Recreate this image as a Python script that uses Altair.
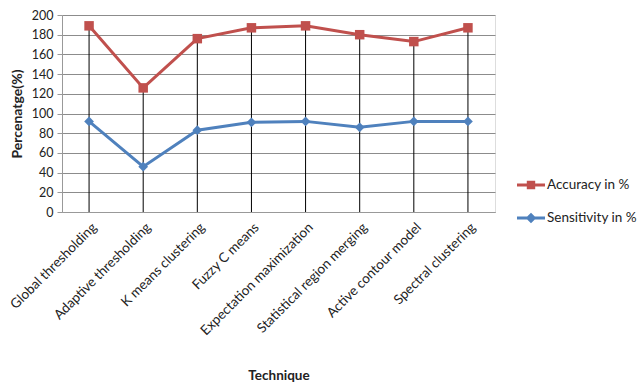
import altair as alt
import pandas as pd

techniques = ["Global thresholding", "Adaptive thresholding", "K means clustering",
              "Fuzzy C means", "Expectation maximization", "Statistical region merging",
              "Active contour model", "Spectral clustering"]
sensitivity = [92, 46, 83, 91, 92, 86, 92, 92]
accuracy = [97, 80, 93, 96, 97, 94, 81, 95]
series_names = ["Accuracy in %", "Sensitivity in %"]
series_colors = ["#C0504D", "#4F81BD"]
y_ticks = list(range(0, 201, 20))

FONT = "Lato"

# legend glyphs: a short line with the series marker on it
legend_glyphs = [
    "M-1,-0.11H1V0.11H-1Z M-0.3,-0.3H0.3V0.3H-0.3Z",
    "M-1,-0.11H1V0.11H-1Z M0,-0.38L0.38,0L0,0.38L-0.38,0Z",
]

df = pd.DataFrame({"Technique": techniques, "acc": accuracy, "sens": sensitivity})

base = alt.Chart(df).transform_calculate(
    **{"Accuracy in %": "datum.acc + datum.sens", "Sensitivity in %": "datum.sens"}
)

x_enc = alt.X(
    "Technique:N", sort=techniques, title="Technique",
    scale=alt.Scale(type="point", padding=0.5),
    axis=alt.Axis(labelAngle=-45, labelFont=FONT, labelFontSize=13.5, labelColor="#222",
                  labelPadding=8, ticks=False, domainColor="#999", domainWidth=1,
                  titleFont=FONT, titleFontSize=13.5, titleFontWeight="bold",
                  titleColor="#222", titleY=163, titleBaseline="middle"),
)
y_scale = alt.Scale(domain=[0, 200])
y_axis = alt.Axis(values=y_ticks, title="Percenatge(%)", domain=True, domainColor="#999",
                  ticks=True, tickSize=5, tickColor="#999",
                  gridColor="#8c8c8c", gridWidth=1, labelFont=FONT, labelFontSize=12.5,
                  labelColor="#222", labelPadding=4, titleFont=FONT, titleFontSize=14,
                  titleFontWeight="bold", titleColor="#222", titlePadding=7)
y_val = alt.Y("Value:Q", scale=y_scale, axis=y_axis)

color_scale = alt.Scale(domain=series_names, range=series_colors)

leg = alt.Legend(title=None, orient="none", legendX=455, legendY=156, padding=0,
                 symbolSize=784, symbolStrokeWidth=0, symbolOpacity=1,
                 labelFont=FONT, labelFontSize=13.5, labelColor="#222",
                 labelOffset=2, rowPadding=12)
color_enc = alt.Color("Series:N", scale=color_scale, legend=leg)

folded = base.transform_fold(series_names, as_=["Series", "Value"])

rules = base.mark_rule(color="black", strokeWidth=1).encode(
    x=x_enc,
    y=alt.Y("Accuracy in %:Q", scale=y_scale, axis=y_axis),
    y2=alt.datum(0),
)

lines = folded.mark_line(strokeWidth=3).encode(
    x=x_enc, y=y_val, color=color_enc, detail="Series:N",
)

squares = folded.transform_filter(alt.datum.Series == series_names[0]).mark_point(
    shape="square", filled=True, size=90, opacity=1
).encode(x=x_enc, y=y_val, color=color_enc)

diamonds = folded.transform_filter(alt.datum.Series == series_names[1]).mark_point(
    shape="diamond", filled=True, size=95, opacity=1
).encode(x=x_enc, y=y_val, color=color_enc)

legend_layer = folded.mark_point(filled=True, opacity=0).encode(
    x=x_enc, y=y_val, color=color_enc,
    shape=alt.Shape("Series:N", scale=alt.Scale(domain=series_names, range=legend_glyphs),
                    legend=leg),
)

chart = alt.layer(rules, lines, squares, diamonds, legend_layer).properties(
    width=433, height=197,
    autosize=alt.AutoSizeParams(type="none"),
    padding={"left": 62, "top": 15, "right": 143, "bottom": 171},
).configure_view(stroke=None).configure(background="white")

chart.save("out.html", embed_options={"renderer": "svg", "actions": False})
